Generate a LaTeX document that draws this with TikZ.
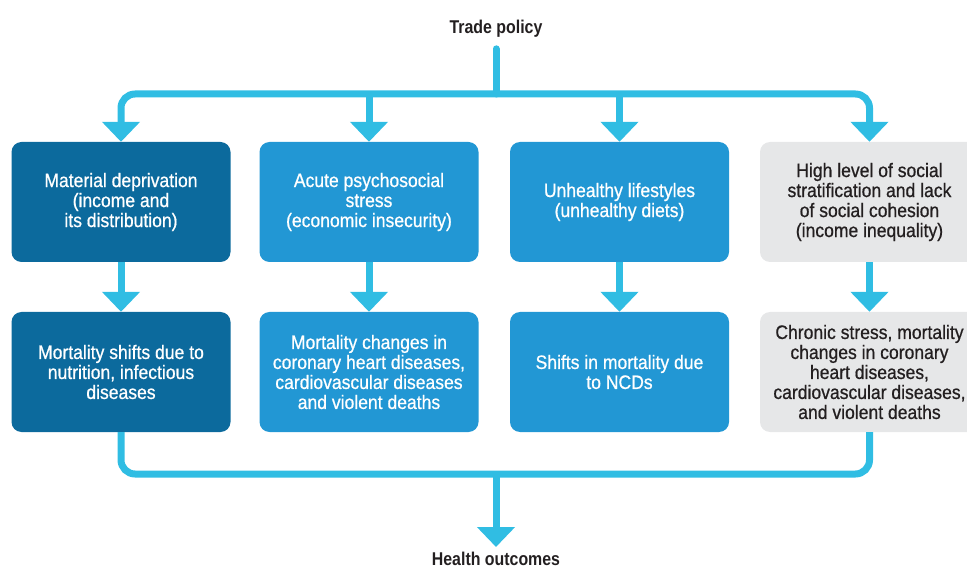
\documentclass[tikz,border=0pt]{standalone}
\usepackage{fontspec}
\setmainfont[FakeStretch=0.9,FakeBold=0.7]{Liberation Sans}
\newfontfamily\lblfont[FakeStretch=0.86]{Liberation Sans Bold}
\usetikzlibrary{arrows.meta}
\definecolor{darkb}{HTML}{0C6A9D}
\definecolor{midb}{HTML}{2297D4}
\definecolor{cyanl}{HTML}{30BDE3}
\definecolor{greyb}{HTML}{E6E7E8}
\definecolor{txt}{HTML}{231F20}
\tikzset{
  box/.style={rounded corners=10pt, minimum width=219pt, minimum height=120pt, align=center, inner sep=0pt,
    font=\fontsize{19.5}{20}\selectfont},
  darkbox/.style={box, fill=darkb, text=white},
  midbox/.style={box, fill=midb, text=white},
  greybox/.style={box, fill=greyb, text=txt},
  conn/.style={draw=cyanl, line width=7pt},
  arr/.style={conn, -{Triangle[width=37pt,length=20pt]}},
  lbl/.style={font=\lblfont\fontsize{18.5}{20}\selectfont, text=txt, inner sep=2pt}
}
\begin{document}
\begin{tikzpicture}[x=1pt,y=-1pt]
\useasboundingbox (0,0) rectangle (967,569);
\node[lbl] (trade) at (496,29) {Trade policy};
\node[darkbox] (b1) at (121,202) {Material deprivation\\(income and\\its distribution)};
\node[midbox] (b2) at (369,202) {Acute psychosocial\\stress\\(economic insecurity)};
\node[midbox] (b3) at (619.5,202) {Unhealthy lifestyles\\(unhealthy diets)};
\node[greybox] (b4) at (869.5,202) {High level of social\\stratification and lack\\of social cohesion\\(income inequality)};
\node[darkbox] (m1) at (121,372) {Mortality shifts due to\\nutrition, infectious\\diseases};
\node[midbox] (m2) at (369,372) {Mortality changes in\\coronary heart diseases,\\cardiovascular diseases\\and violent deaths};
\node[midbox] (m3) at (619.5,372) {Shifts in mortality due\\to NCDs};
\node[greybox] (m4) at (869.5,372) {Chronic stress, mortality\\changes in coronary\\heart diseases,\\cardiovascular diseases,\\and violent deaths};
\node[lbl] (health) at (496,559) {Health outcomes};
\coordinate (tt) at (496,94);
\coordinate (hb) at (496,474);
% top
\draw[conn, line cap=round, shorten <=9pt] (trade.south) -- (tt);
\draw[arr, rounded corners=14pt] (tt) -| (b1.north);
\draw[arr, rounded corners=14pt] (tt) -| (b4.north);
\draw[arr] (b2.north |- tt) -- (b2.north);
\draw[arr] (b3.north |- tt) -- (b3.north);
% middle
\draw[arr] (b1) -- (m1);
\draw[arr] (b2) -- (m2);
\draw[arr] (b3) -- (m3);
\draw[arr] (b4) -- (m4);
% bottom
\draw[conn, rounded corners=14pt] (m1.south) |- (hb) -| (m4.south);
\draw[arr, shorten >=3pt] (hb) -- (health.north);
\end{tikzpicture}
\end{document}
